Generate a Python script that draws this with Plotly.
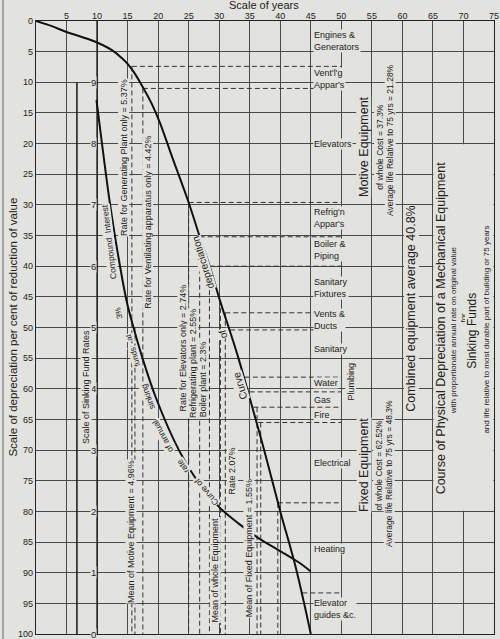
import plotly.graph_objects as go

BG = "#e2e2de"
INK = "#222222"
GRID = "#4a4a4a"
FONT = "Liberation Sans, Arial, sans-serif"

# depreciation curve: years against per cent of reduction of value
dep_years = [0, 2.5, 5, 7.5, 10, 12.5, 14, 15, 16, 17.5, 19, 20.3, 22.3, 25, 27, 28.5, 30, 33, 35, 37.5, 40, 42.5, 45]
dep_values = [0, 0.8, 1.8, 2.6, 3.5, 4.8, 6.0, 7.0, 8.3, 10.8, 13.6, 16.6, 22.2, 29.6, 35.8, 40.2, 45.2, 54.5, 61.5, 70.5, 80, 89, 100]

# sinking fund curve (3% compound interest), read on the same grid
fund_years = [9.9, 11, 12, 13.5, 14.8, 15.85, 17.5, 19.65, 23.4, 26.7, 30, 33.2, 36.5, 39.7, 43, 45]
fund_values = [12.9, 21.5, 29, 38.5, 45.5, 49.6, 55.2, 61.5, 70, 75.4, 79.3, 82, 84.4, 86.3, 88.3, 89.8]

year_ticks = [5, 10, 15, 20, 25, 30, 35, 40, 45, 50, 55, 60, 65, 70, 75]
value_ticks = list(range(0, 101, 5))
rate_labels = ["9", "8", "7", "6", "5", "4", "3", "2", "1", "0"]
rate_positions = [10, 20, 30, 40, 50, 60, 70, 80, 90, 100]

# dashed leaders from the curve to the equipment column
leader_values = [7.4, 11.0, 29.6, 35.2, 40.0, 47.6, 50.4, 58.1, 60.5, 63.0, 65.5, 78.6, 93.3]
leader_years = [15.7, 17.5, 25.0, 26.8, 28.4, 31.0, 31.8, 34.2, 35.0, 35.6, 36.4, 39.6, 43.6]
leader_end = 50

# dashed drop lines down to the 100 line
drop_years = [15.7, 16.2, 17.5, 25.0, 26.8, 28.4, 30.2, 31.0, 36.2, 36.8, 39.6]
drop_from = [7.4, 50.0, 11.0, 29.6, 35.2, 40.0, 45.5, 47.6, 63.0, 65.5, 78.6]

# equipment column (between 45 and 50 years)
categories = [
    "Engines &<br>Generators", "Vent'l'g<br>Appar's", "Elevators", "Refrig'n<br>Appar's",
    "Boiler &<br>Piping", "Sanitary<br>Fixtures", "Vents &<br>Ducts", "Sanitary", "Water",
    "Gas", "Fire", "Electrical", "Heating", "Elevator<br>guides &c.",
]
category_values = [3.3, 9.4, 20, 32.1, 37.3, 43.5, 48.8, 53.5, 59.1, 61.8, 64.3, 72.1, 86.1, 95.9]

fig = go.Figure()

# plain part of the sheet where the long titles sit
fig.add_shape(type="rect", x0=65.1, x1=74.9, y0=20.1, y1=79.9, layer="between",
              fillcolor=BG, line_width=0)

lx, ly = [], []
for v, y0 in zip(leader_values, leader_years):
    lx += [y0, leader_end, None]
    ly += [v, v, None]
dx, dy = [], []
for yr, v0 in zip(drop_years, drop_from):
    dx += [yr, yr, None]
    dy += [v0, 100, None]
fig.add_trace(go.Scatter(x=lx, y=ly, mode="lines", line=dict(color="#333", width=1, dash="5px,3px"),
                         hoverinfo="skip", showlegend=False))
fig.add_trace(go.Scatter(x=dx, y=dy, mode="lines", line=dict(color="#333", width=1, dash="5px,3px"),
                         hoverinfo="skip", showlegend=False))

# scale of sinking fund rates
fig.add_trace(go.Scatter(x=[6.7, 6.7], y=[10, 100], mode="lines", line=dict(color=INK, width=1.6),
                         hoverinfo="skip", showlegend=False))
fig.add_trace(go.Scatter(x=[10, 10], y=[0, 100], mode="lines", line=dict(color=INK, width=1.5),
                         hoverinfo="skip", showlegend=False))

fig.add_trace(go.Scatter(x=dep_years, y=dep_values, mode="lines", line=dict(color="#111", width=2, shape="spline"),
                         name="depreciation", showlegend=False))
fig.add_trace(go.Scatter(x=fund_years, y=fund_values, mode="lines", line=dict(color="#111", width=2, shape="spline"),
                         name="sinking funds", showlegend=False))


def label(x, y, text, size=9, angle=-90, **kw):
    fig.add_annotation(x=x, y=y, text=text, textangle=angle, showarrow=False, bgcolor=BG, borderpad=0,
                       font=dict(size=size, color=INK, family=FONT), **kw)


for t, v in zip(rate_labels, rate_positions):
    label(9.35, v, t, size=9.5, angle=0)

for t, v in zip(categories, category_values):
    label(45.35, v, t, size=9, angle=0, xanchor="left", align="left")

# rate lines
label(14.3, 22.3, "Rate for Generating Plant only = 5.37%")
label(18.3, 32.8, "Rate for Ventilating apparatus only = 4.42%")
label(24.1, 53.4, "Rate for Elevators only = 2.74%")
label(25.7, 55.8, "Refrigerating plant = 2.55%")
label(27.3, 58.5, "Boiler plant = 2.3%")
label(32.1, 73.5, "Rate 2.07%")
label(15.55, 83.2, "Mean of Motive Equipment = 4.96%")
label(29.3, 89.5, "Mean of whole Equipment")
label(34.9, 86.0, "Mean of Fixed Equipment = 1.55%")
label(8.2, 59.7, "Scale of Sinking Fund Rates")

# words along the sinking fund curve
label(11.9, 36.0, "Compound  Interest", size=8.5, angle=-97)
label(13.6, 47.6, "3%", size=8, angle=-102)
label(15.2, 51.6, "at", size=8, angle=-105)
label(16.3, 54.8, "funds", size=8, angle=-106)
label(18.3, 61.2, "sinking", size=8.5, angle=-110)
label(20.7, 67.8, "of annual", size=8.5, angle=-118)
label(24.0, 72.6, "rate", size=8.5, angle=-125)
label(27.8, 76.8, "Curve of", size=8.5, angle=-130)

# words along the depreciation curve
label(27.3, 39.5, "depreciation", size=10, angle=-107)
label(30.6, 51.0, "of", size=10, angle=-107)
label(33.3, 59.5, "Curve", size=10.5, angle=-107)

# right hand titles
label(51.6, 58.8, "Plumbing")
label(53.6, 20.5, "Motive Equipment", size=12.5)
label(56.2, 20.5, "of whole Cost = 37.3%", size=8.5)
label(58.0, 19.4, "Average life Relative to 75 yrs = 21.28%", size=8.5)
label(61.5, 47.0, "Combined equipment average 40.8%", size=12.5)
label(53.8, 72.5, "Fixed Equipment", size=12.5)
label(56.2, 72.5, "of whole Cost = 62.52%", size=8.5)
label(57.9, 73.8, "Average life Relative to 75 yrs = 48.3%", size=8.5)
label(66.3, 50.0, "Course of Physical Depreciation of a Mechanical Equipment", size=12.5)
label(68.5, 50.4, "with proportionate annual rate on original value", size=8)
label(70.0, 48.3, "for", size=8)
label(71.5, 50.6, "Sinking Funds", size=12)
label(73.8, 50.4, "and life relative to most durable part of building or 75 years", size=8)

fig.add_annotation(xref="paper", yref="paper", x=0.497, y=1.0265, xanchor="center", yanchor="middle",
                   text="Scale of years", showarrow=False, font=dict(size=11, color=INK, family=FONT))
fig.add_annotation(xref="paper", yref="paper", x=-0.0523, y=0.5, xanchor="center", yanchor="middle",
                   textangle=-90, showarrow=False,
                   text="Scale of depreciation per cent of reduction of value",
                   font=dict(size=11.5, color=INK, family=FONT))
fig.add_shape(type="line", xref="paper", yref="paper", x0=-0.072, x1=-0.072, y0=-0.01, y1=1.04,
              line=dict(color="#666", width=1))

axis = dict(showgrid=True, gridcolor=GRID, gridwidth=1, zeroline=False, showline=True, mirror=True,
            linecolor=INK, linewidth=1.2, ticks="", tickfont=dict(size=9, color=INK, family=FONT),
            automargin=False, ticklabeloverflow="allow")
fig.update_xaxes(range=[0, 75], side="top", tickvals=year_ticks, ticklabelstandoff=-3, **axis)
fig.update_yaxes(range=[100, 0], tickvals=value_ticks, **axis)

fig.update_layout(
    width=500, height=639,
    margin=dict(l=36, r=6, t=21, b=5),
    paper_bgcolor=BG, plot_bgcolor=BG,
    font=dict(family=FONT, color=INK),
)

fig.write_html("out.html", config={"displayModeBar": False},
               post_script="document.body.style.margin='0px';")
